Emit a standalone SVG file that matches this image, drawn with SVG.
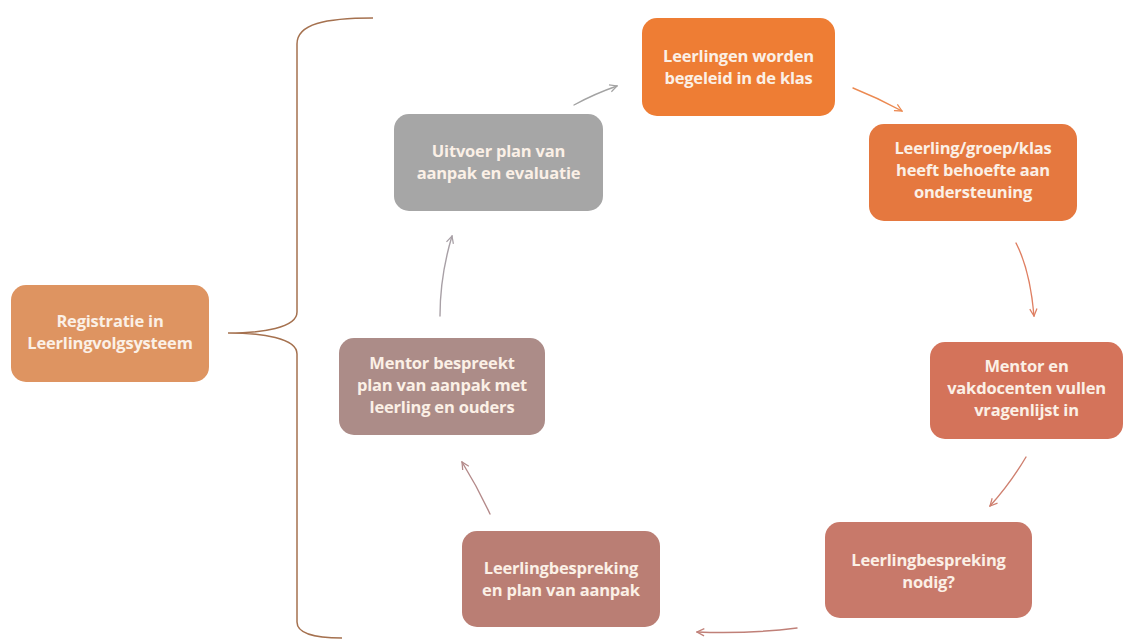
<svg xmlns="http://www.w3.org/2000/svg" width="1124" height="644" viewBox="0 0 1124 644">
<defs>
<style>
.box{stroke:none}
.t{font-family:"Open Sans","Liberation Sans",sans-serif;font-weight:bold;font-size:16.5px;fill:#FBF0E6;text-anchor:middle;letter-spacing:-0.2px}
.c{fill:none;stroke-width:1.4;stroke-linecap:round}
</style>
<marker id="m1" viewBox="0 0 10 10" refX="9" refY="5" markerWidth="9" markerHeight="9" orient="auto" markerUnits="userSpaceOnUse"><path d="M1,1 L9,5 L1,9" fill="none" stroke="#A3A3A3" stroke-width="1.4"/></marker>
<marker id="m2" viewBox="0 0 10 10" refX="9" refY="5" markerWidth="9" markerHeight="9" orient="auto" markerUnits="userSpaceOnUse"><path d="M1,1 L9,5 L1,9" fill="none" stroke="#EC8A52" stroke-width="1.4"/></marker>
<marker id="m3" viewBox="0 0 10 10" refX="9" refY="5" markerWidth="9" markerHeight="9" orient="auto" markerUnits="userSpaceOnUse"><path d="M1,1 L9,5 L1,9" fill="none" stroke="#DF7F62" stroke-width="1.4"/></marker>
<marker id="m4" viewBox="0 0 10 10" refX="9" refY="5" markerWidth="9" markerHeight="9" orient="auto" markerUnits="userSpaceOnUse"><path d="M1,1 L9,5 L1,9" fill="none" stroke="#CF8070" stroke-width="1.4"/></marker>
<marker id="m5" viewBox="0 0 10 10" refX="9" refY="5" markerWidth="9" markerHeight="9" orient="auto" markerUnits="userSpaceOnUse"><path d="M1,1 L9,5 L1,9" fill="none" stroke="#C08078" stroke-width="1.4"/></marker>
<marker id="m6" viewBox="0 0 10 10" refX="9" refY="5" markerWidth="9" markerHeight="9" orient="auto" markerUnits="userSpaceOnUse"><path d="M1,1 L9,5 L1,9" fill="none" stroke="#B48A8A" stroke-width="1.4"/></marker>
<marker id="m7" viewBox="0 0 10 10" refX="9" refY="5" markerWidth="9" markerHeight="9" orient="auto" markerUnits="userSpaceOnUse"><path d="M1,1 L9,5 L1,9" fill="none" stroke="#A8A0A6" stroke-width="1.4"/></marker>
</defs>
<rect width="1124" height="644" fill="#FFFFFF"/>
<g id="connectors">
<path id="brace" d="M373,18 C325,18 297,24 297,44 L297,312 C297,328 262,333 228,333 C262,333 297,338 297,354 L297,622 C297,634 315,638 342,638" fill="none" stroke="#A5714F" stroke-width="1.5"/>
<path class="c" stroke="#A3A3A3" d="M574,105 Q594,94 617,86" marker-end="url(#m1)"/>
<path class="c" stroke="#EC8A52" d="M853,88 Q878,98 902,111" marker-end="url(#m2)"/>
<path class="c" stroke="#DF7F62" d="M1016,243 Q1030,270 1034,316" marker-end="url(#m3)"/>
<path class="c" stroke="#CF8070" d="M1026,457 Q1010,484 990,506" marker-end="url(#m4)"/>
<path class="c" stroke="#C08078" d="M797,628 Q750,634 697,632" marker-end="url(#m5)"/>
<path class="c" stroke="#B48A8A" d="M490,514 Q478,488 462,462" marker-end="url(#m6)"/>
<path class="c" stroke="#A8A0A6" d="M440,316 Q440,276 452,236" marker-end="url(#m7)"/>
</g>
<g id="n1"><rect class="box" x="642" y="18" width="193" height="98" rx="15" fill="#EE7D34"/><text class="t" x="738.5" y="62">Leerlingen worden</text><text class="t" x="738.5" y="84">begeleid in de klas</text></g>
<g id="n2"><rect class="box" x="869" y="124" width="208" height="97" rx="15" fill="#E5783F"/><text class="t" x="973" y="154">Leerling/groep/klas</text><text class="t" x="973" y="176">heeft behoefte aan</text><text class="t" x="973" y="198">ondersteuning</text></g>
<g id="n3"><rect class="box" x="930" y="342" width="193" height="97" rx="15" fill="#D4735A"/><text class="t" x="1026.5" y="372">Mentor en</text><text class="t" x="1026.5" y="394">vakdocenten vullen</text><text class="t" x="1026.5" y="416">vragenlijst in</text></g>
<g id="n4"><rect class="box" x="825" y="522" width="207" height="96" rx="15" fill="#C8796A"/><text class="t" x="928.5" y="566">Leerlingbespreking</text><text class="t" x="928.5" y="588">nodig?</text></g>
<g id="n5"><rect class="box" x="462" y="531" width="198" height="96" rx="15" fill="#BA7E74"/><text class="t" x="561" y="574">Leerlingbespreking</text><text class="t" x="561" y="596">en plan van aanpak</text></g>
<g id="n6"><rect class="box" x="339" y="338" width="206" height="97" rx="15" fill="#AC8C88"/><text class="t" x="442" y="369">Mentor bespreekt</text><text class="t" x="442" y="391">plan van aanpak met</text><text class="t" x="442" y="413">leerling en ouders</text></g>
<g id="n7"><rect class="box" x="394" y="114" width="209" height="97" rx="15" fill="#A6A6A6"/><text class="t" x="498.5" y="157">Uitvoer plan van</text><text class="t" x="498.5" y="179">aanpak en evaluatie</text></g>
<g id="n8"><rect class="box" x="11" y="285" width="198" height="97" rx="15" fill="#DE9461"/><text class="t" x="110" y="327">Registratie in</text><text class="t" x="110" y="349">Leerlingvolgsysteem</text></g>
</svg>
